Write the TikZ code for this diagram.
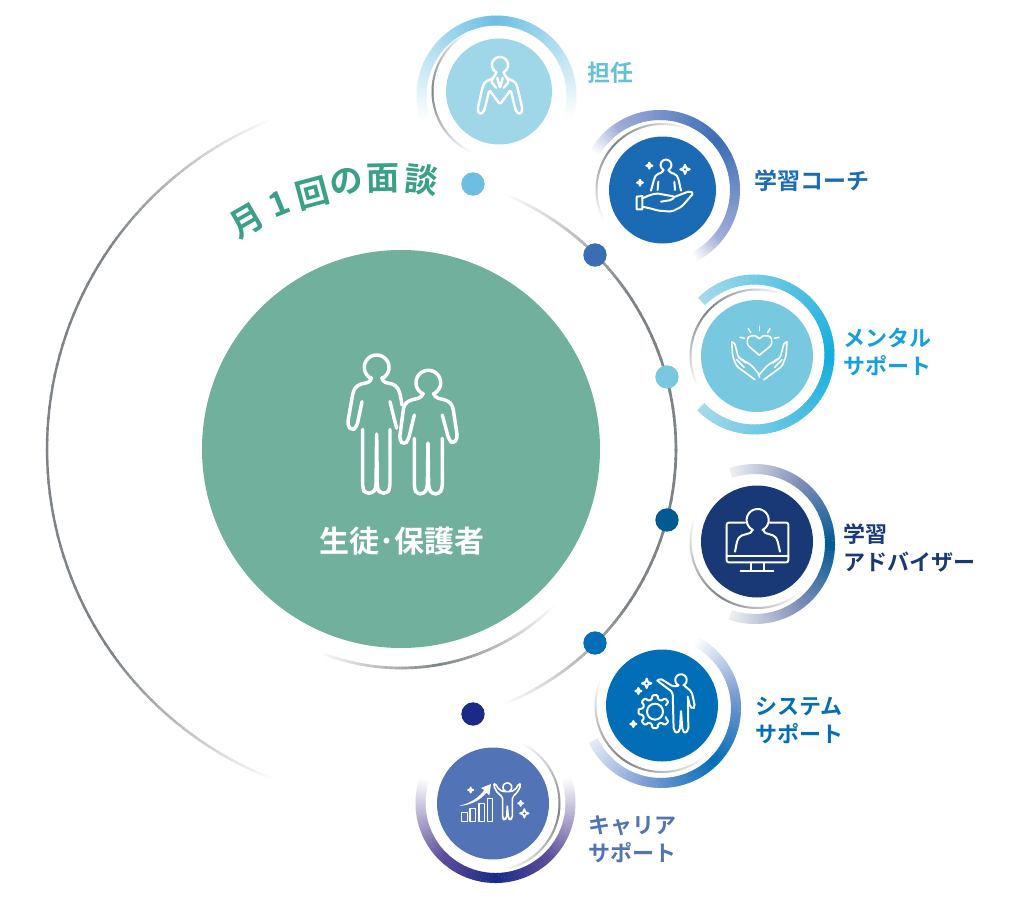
\documentclass[tikz,border=0pt]{standalone}
\usepackage{fontspec}
\usetikzlibrary{calc}
\newfontfamily\jpfont[UprightFont=* Medium,BoldFont=* Bold]{Noto Sans CJK JP}
\definecolor{mainGreen}{HTML}{70B09C}
\definecolor{talkGreen}{HTML}{3BA088}
\definecolor{lineGray}{HTML}{7D8387}
\definecolor{tanninSky}{HTML}{A0D7E8}
\definecolor{tanninPeak}{HTML}{6CBFE3}
\definecolor{tanninText}{HTML}{66C0D8}
\definecolor{coachBlue}{HTML}{1B6BB4}
\definecolor{coachPeak}{HTML}{3A6DB5}
\definecolor{coachEnd}{HTML}{A3AEDA}
\definecolor{mentalSky}{HTML}{78C9E0}
\definecolor{mentalPeak}{HTML}{12AEDC}
\definecolor{mentalEnd}{HTML}{A8DAEB}
\definecolor{mentalText}{HTML}{149FDF}
\definecolor{adviserNavy}{HTML}{193876}
\definecolor{adviserPeak}{HTML}{005A93}
\definecolor{adviserMid}{HTML}{8090B8}
\definecolor{adviserEnd}{HTML}{F0F1F6}
\definecolor{systemBlue}{HTML}{036EB8}
\definecolor{systemMid}{HTML}{7A9BD2}
\definecolor{systemEnd}{HTML}{E6ECF6}
\definecolor{careerBlue}{HTML}{5273B6}
\definecolor{careerPeak}{HTML}{1A2A86}
\definecolor{careerMid}{HTML}{5E4F9B}
\tikzset{
    disc/.style={circle,inner sep=0pt,minimum size=#1*1.5pt},
    dot/.style={circle,inner sep=0pt,minimum size=17.5pt},
    label/.style={anchor=west,inner sep=0pt,align=left,font=\jpfont\bfseries\fontsize{16.5}{21}\selectfont},
    iconbox/.style={shift={(#1)},scale=.3333,white,line width=1.5pt,line join=round,line cap=round,rounded corners=1.5pt}
}
% one stretch of arc, colour goes from #6 to #7
\newcommand{\fadearc}[7]{
    \foreach \i in {1,...,40}{
        \pgfmathsetmacro\angA{-(#4+(#5-#4)*(\i-1)/40)}
        \pgfmathsetmacro\angB{-(#4+(#5-#4)*(\i+.25)/40)}
        \pgfmathtruncatemacro\pct{100*(\i-.5)/40}
        \draw[line width=#3,color=#7!\pct!#6] ($(#1)+(\angA:#2)$) -- ($(#1)+(\angB:#2)$);
    }
}
\newcommand{\ringarc}[9]{
    \fadearc{#1}{#2}{#3}{#4}{#5}{#7}{#8}
    \fadearc{#1}{#2}{#3}{#5}{#6}{#8}{#9}
}
\newcommand{\headline}[3]{
    \draw[sharp corners] plot[domain=115:425,samples=40] ({#1+#3*cos(\x)},{#2+#3*sin(\x)});
}
\newcommand{\sparkle}[3]{
    \draw[sharp corners] ({#1},{#2-#3}) -- ({#1+.28*#3},{#2-.28*#3}) -- ({#1+#3},{#2}) -- ({#1+.28*#3},{#2+.28*#3})
        -- ({#1},{#2+#3}) -- ({#1-.28*#3},{#2+.28*#3}) -- ({#1-#3},{#2}) -- ({#1-.28*#3},{#2-.28*#3}) -- cycle;
}
\begin{document}
\begin{tikzpicture}[x=.75pt,y=-.75pt]
    \useasboundingbox (0,0) rectangle (1024,899);
    \coordinate (mid) at (401,449);
    \coordinate (ringA) at (496.5,95.5);
    \coordinate (ringB) at (660,190);
    \coordinate (ringC) at (754.5,354.5);
    \coordinate (ringD) at (755,544);
    \coordinate (ringE) at (661,708);
    \coordinate (ringF) at (495.5,803);
    \node[disc=53,fill=tanninSky] (tannin) at (499,91.5) {};
    \node[disc=53.5,fill=coachBlue] (coach) at (662.5,190) {};
    \node[disc=56,fill=mentalSky] (mental) at (757,356) {};
    \node[disc=56,fill=adviserNavy] (adviser) at (757,541.5) {};
    \node[disc=56,fill=systemBlue] (system) at (662,705.5) {};
    \node[disc=56,fill=careerBlue] (career) at (493,803.5) {};
    \node[disc=199,fill=mainGreen] (main) at (mid) {};

    % big lines round the middle
    \ringarc{mid}{354}{1.8pt}{111}{145}{215}{white}{lineGray}{lineGray}
    \fadearc{mid}{354}{1.8pt}{215}{249}{lineGray}{white}
    \ringarc{mid}{275}{2pt}{68}{35}{-35}{white}{lineGray}{lineGray}
    \fadearc{mid}{275}{2pt}{-35}{-68}{lineGray}{white}
    \ringarc{mid}{219}{2pt}{-45}{-80}{-112}{white}{lineGray}{white}

    % thick rings
    \ringarc{ringA}{75}{7.5pt}{-18}{90}{198}{white}{tanninPeak}{white}
    \ringarc{ringB}{75}{7.5pt}{-63}{-40}{40}{white}{coachEnd}{coachPeak}
    \ringarc{ringB}{75}{7.5pt}{40}{125}{150}{coachPeak}{coachEnd}{white}
    \ringarc{ringC}{75}{7.5pt}{135}{0}{-135}{mentalEnd}{mentalPeak}{mentalEnd}
    \ringarc{ringD}{75}{7.5pt}{109}{55}{0}{adviserEnd}{adviserMid}{adviserPeak}
    \ringarc{ringD}{75}{7.5pt}{0}{-55}{-109}{adviserPeak}{adviserMid}{adviserEnd}
    \ringarc{ringE}{75}{7.5pt}{63}{10}{-45}{white}{systemMid}{systemBlue}
    \ringarc{ringE}{75}{7.5pt}{-45}{-100}{-154}{systemBlue}{systemMid}{systemEnd}
    \ringarc{ringF}{75}{7.5pt}{161}{225}{270}{white}{careerMid}{careerPeak}
    \ringarc{ringF}{75}{7.5pt}{270}{315}{379}{careerPeak}{careerMid}{white}

    % thin gray lines next to the discs
    \ringarc{tannin}{66.5}{1.5pt}{117}{180}{246}{white}{lineGray}{white}
    \ringarc{coach}{66}{1.5pt}{66}{136}{207}{white}{lineGray}{white}
    \ringarc{mental}{66.5}{1.5pt}{66}{137}{207}{white}{lineGray}{white}
    \ringarc{adviser}{66.5}{1.5pt}{159}{235}{311}{white}{lineGray}{white}
    \ringarc{system}{66.5}{1.5pt}{157}{235}{312}{white}{lineGray}{white}
    \ringarc{career}{66.5}{1.5pt}{66}{-8}{-81}{white}{lineGray}{white}

    \node[dot,fill=tanninPeak] (dotA) at (473,184) {};
    \node[dot,fill=coachPeak] (dotB) at (595,255) {};
    \node[dot,fill=mentalSky] (dotC) at (667,377) {};
    \node[dot,fill=adviserPeak] (dotD) at (667,520) {};
    \node[dot,fill=systemBlue] (dotE) at (595,643) {};
    \node[dot,fill=careerPeak] (dotF) at (473,714) {};

    % title along the line
    \foreach \ch/\px/\py/\rot [count=\n] in {月/246.7/221/30,1/279/203.5/22,回/312/193/15,の/346.7/181.7/8,面/383/179/1,談/421.7/180/-6}{
        \node[inner sep=0pt,rotate=\rot,text=talkGreen,font=\jpfont\bfseries\fontsize{25}{25}\selectfont] (talk\n) at (\px,\py) {\ch};
    }

    \node[inner sep=0pt,text=white,font=\jpfont\bfseries\fontsize{22.5}{25}\selectfont] (mainText) at (402,541) {生徒･保護者};
    \node[label,text=tanninText,font=\jpfont\bfseries\fontsize{17.25}{21}\selectfont] (tanninText) at (587.5,73) {担任};
    \node[label,text=coachBlue,font=\jpfont\bfseries\fontsize{17.25}{21}\selectfont] (coachText) at (754.5,181) {学習コーチ};
    \node[label,text=mentalText] (mentalText) at (843.5,352) {メンタル\\サポート};
    \node[label,text=adviserNavy] (adviserText) at (843,548) {学習\\アドバイザー};
    \node[label,text=systemBlue] (systemText) at (755,720) {システム\\サポート};
    \node[label,text=careerBlue] (careerText) at (588,839) {キャリア\\サポート};

    % two people in the middle
    \begin{scope}[iconbox={300,340},line width=2.6pt,rounded corners=3pt]
        \headline{230}{82}{37}
        \draw (214,116) -- (214,125) -- (172,135) -- (160,152) -- (142,255) -- (155,272) -- (170,262) -- (186,185);
        \draw (246,116) -- (246,125) -- (288,135) -- (300,158) -- (306,195);
        \draw (270,185) -- (290,265);
        \draw (188,268) -- (188,445) -- (195,460) -- (218,460) -- (228,445) -- (230,275) -- (232,445) -- (240,460) -- (262,460) -- (270,445) -- (270,268);
        \headline{385}{128}{37}
        \draw (369,162) -- (367,172) -- (325,182) -- (312,195) -- (298,300) -- (312,315) -- (325,300) -- (343,225);
        \draw (401,162) -- (403,172) -- (445,182) -- (458,197) -- (473,295) -- (460,312) -- (447,300) -- (427,225);
        \draw (343,295) -- (343,445) -- (350,462) -- (372,462) -- (382,445) -- (384,302) -- (386,445) -- (395,462) -- (418,462) -- (427,445) -- (427,295);
    \end{scope}

    % jacket
    \begin{scope}[iconbox={460,45},line width=1.8pt]
        \headline{120}{60}{24}
        \draw (108,85) -- (100,100) -- (75,110) -- (68,125) -- (52,195) -- (60,208) -- (72,200) -- (88,135) -- (120,178) -- (152,135) -- (168,200) -- (180,208) -- (188,195) -- (172,125) -- (165,110) -- (140,100) -- (132,85);
        \draw (100,100) -- (92,108) -- (108,128);
        \draw (140,100) -- (148,108) -- (132,128);
        \draw (112,98) -- (120,130) -- (128,98);
    \end{scope}

    % open hand
    \begin{scope}[iconbox={625,150}]
        \headline{123}{45}{16}
        \draw (115,60) -- (113,68) -- (95,72) -- (88,85) -- (78,122);
        \draw (131,60) -- (134,68) -- (152,72) -- (160,85) -- (168,122);
        \draw (100,95) -- (98,120);
        \draw (148,95) -- (150,120);
        \draw[sharp corners] (35,140) -- (52,138) -- (52,178) -- (35,178) -- cycle;
        \draw (52,145) -- (75,135) -- (95,130) -- (150,140) -- (140,150) -- (108,155);
        \draw (150,140) -- (195,123) -- (205,130) -- (170,170) -- (140,185) -- (100,182) -- (75,175) -- (52,170);
        \sparkle{73}{47}{9}
        \sparkle{180}{58}{14}
        \sparkle{45}{98}{9}
    \end{scope}

    % heart and hands
    \begin{scope}[iconbox={720,318},line width=1.2pt]
        \draw (118,112) .. controls (100,95) and (82,85) .. (82,70) .. controls (82,52) and (108,48) .. (118,65) .. controls (128,48) and (155,52) .. (155,70) .. controls (155,85) and (136,95) .. (118,112);
        \draw (118,25) -- (118,38);
        \draw (85,32) -- (92,44);
        \draw (150,32) -- (143,44);
        \draw (60,58) -- (73,61);
        \draw (177,58) -- (163,61);
        \draw (35,72) -- (38,115) -- (50,145) -- (105,185);
        \draw (35,72) -- (43,72) -- (55,118) -- (95,142) -- (118,170) -- (118,178);
        \draw (55,118) -- (78,135);
        \draw (50,125) -- (72,148);
        \draw (201,72) -- (198,115) -- (186,145) -- (132,185);
        \draw (201,72) -- (193,72) -- (181,118) -- (142,142) -- (118,170);
        \draw (181,118) -- (158,135);
        \draw (186,125) -- (164,148);
    \end{scope}

    % screen
    \begin{scope}[iconbox={720,500}]
        \headline{113}{60}{33}
        \draw (75,68) -- (20,68) -- (20,187) -- (205,187) -- (205,68) -- (150,68);
        \draw (97,90) -- (97,97) -- (60,108) -- (52,120) -- (45,155);
        \draw (130,90) -- (130,97) -- (165,108) -- (172,120) -- (180,155);
        \draw (20,168) -- (205,168);
        \draw (92,188) -- (92,212);
        \draw (132,188) -- (132,212);
        \draw (62,212) -- (160,212);
    \end{scope}

    % gear and pointing man
    \begin{scope}[iconbox={625,665}]
        \headline{168}{45}{17}
        \draw (97,47) -- (105,40) -- (145,65) -- (160,62);
        \draw (176,60) -- (185,68) -- (200,80) -- (210,125) -- (203,132) -- (195,125) -- (188,95);
        \draw (97,47) -- (143,82) -- (146,195) -- (155,205) -- (165,195) -- (168,135) -- (172,195) -- (180,205) -- (190,195) -- (189,100);
        \draw[sharp corners] (90,140) circle[radius=24];
        \draw[rounded corners=.8pt] ({90+38*cos(31)},{140+38*sin(31)})
            \foreach \a in {45,90,...,315}{
                -- ({90+38*cos(\a-14)},{140+38*sin(\a-14)}) -- ({90+50*cos(\a-9)},{140+50*sin(\a-9)})
                -- ({90+50*cos(\a+9)},{140+50*sin(\a+9)}) -- ({90+38*cos(\a+14)},{140+38*sin(\a+14)})
            };
        \sparkle{65}{55}{14}
        \sparkle{40}{78}{9}
        \sparkle{25}{177}{9}
    \end{scope}

    % bars and arrow
    \begin{scope}[iconbox={455,770},line width=1.2pt]
        \draw[sharp corners] (20,127) rectangle (37,155);
        \draw[sharp corners] (45,115) rectangle (62,155);
        \draw[sharp corners] (72,100) rectangle (88,155);
        \draw[sharp corners] (97,85) rectangle (113,155);
        \fill[sharp corners] (12,108) .. controls (50,98) and (72,82) .. (88,60) -- (78,54) -- (108,42) -- (103,76) -- (94,68) .. controls (75,92) and (45,106) .. (12,108) -- cycle;
        \headline{157}{52}{13}
        \draw (120,40) -- (115,46) -- (128,70) -- (143,80) -- (143,145) -- (148,150) -- (155,145) -- (157,105) -- (160,145) -- (165,150) -- (172,145) -- (172,80) -- (185,70) -- (198,46) -- (193,40) -- (180,60) -- (168,65) -- (146,65) -- (133,60) -- cycle;
        \sparkle{47}{60}{8}
        \sparkle{197}{100}{8}
        \sparkle{208}{130}{13}
    \end{scope}
\end{tikzpicture}
\end{document}
